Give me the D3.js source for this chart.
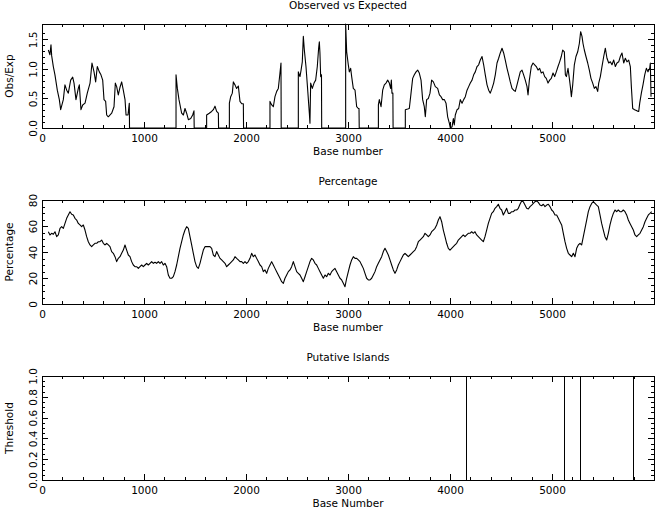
<!DOCTYPE html>
<html><head><meta charset="utf-8">
<script src="https://cdn.jsdelivr.net/npm/d3@7"></script>
<style>
html,body{margin:0;padding:0;background:#fff;}
svg{display:block;background:#fff;}
text{font-family:"DejaVu Sans",sans-serif;font-size:10.5px;fill:#000;}
</style></head><body>
<svg id="chart" width="658" height="510"></svg>
<script>
// ---------------- DATA ----------------
const panelTitles = ["Observed vs Expected", "Percentage", "Putative Islands"];
const xAxisLabels = ["Base number", "Base number", "Base Number"];
const yAxisLabels = ["Obs/Exp", "Percentage", "Threshold"];

const sequenceLength = 6000;
const xMajorTicks = [0, 1000, 2000, 3000, 4000, 5000];
const oeTicks = [0.0, 0.5, 1.0, 1.5];
const pctTicks = [0, 20, 40, 60, 80];
const islandTicks = [0.0, 0.2, 0.4, 0.6, 0.8, 1.0];

// Observed/Expected ratio: [base, value]
const obsExp = [
 [62,1.32],[78,1.24],[88,1.41],[95,1.22],[111,1.04],[127,0.90],[150,0.64],[170,0.48],[183,0.31],[209,0.48],
 [225,0.73],[242,0.64],[258,0.59],[281,0.81],[301,0.86],[314,0.76],[333,0.48],[356,0.67],[366,0.73],[382,0.31],
 [399,0.39],[422,0.42],[444,0.59],[471,0.76],[490,1.10],[510,0.95],[526,0.78],[542,1.04],[562,0.95],[578,0.90],
 [595,0.81],[608,0.48],[624,0.45],[634,0.22],[650,0.19],[683,0.25],[706,0.36],[719,0.76],[732,0.70],[748,0.56],
 [765,0.69],[781,0.78],[797,0.64],[814,0.48],[824,0.22],[843,0.22],[856,0.42],[858,0],
 [1314,0],[1314,0.90],[1327,0.67],[1343,0.48],[1369,0.25],[1386,0.22],[1402,0.33],[1418,0.25],[1435,0.14],[1458,0.16],[1477,0.22],[1490,0.29],[1492,0],
 [1614,0],[1614,0.22],[1640,0.25],[1663,0.28],[1680,0.31],[1696,0.37],[1712,0.28],[1729,0.25],[1731,0],
 [1837,0],[1837,0.42],[1850,0.53],[1866,0.59],[1876,0.78],[1892,0.73],[1908,0.67],[1925,0.71],[1941,0.45],[1958,0.41],[1974,0.41],[1976,0],
 [2235,0],[2235,0.45],[2252,0.39],[2268,0.36],[2284,0.53],[2301,0.62],[2317,0.67],[2333,0.93],[2343,1.10],[2345,0],
 [2513,0],[2513,0.95],[2529,0.87],[2540,0.98],[2552,1.12],[2562,1.55],[2572,1.32],[2588,1.04],[2605,0.64],[2621,0.25],
 [2627,0.08],[2634,0.76],[2650,0.67],[2667,0.76],[2683,0.81],[2699,1.04],[2712,1.35],[2719,1.46],[2725,1.27],[2732,0.87],[2740,0.90],[2742,0],
 [2977,0],[2977,1.76],[2987,1.29],[3003,1.07],[3013,0.95],[3026,1.01],[3036,0.87],[3052,0.67],[3069,0.64],[3085,0.36],[3101,0.33],[3108,0.33],[3110,0],
 [3298,0],[3298,0.39],[3307,0.48],[3324,0.36],[3340,0.64],[3356,0.73],[3373,0.76],[3389,0.81],[3405,0.76],[3418,0.67],[3425,0.81],[3431,0.59],[3440,0.59],[3442,0],
 [3562,0],[3562,0.31],[3585,0.32],[3601,0.33],[3618,0.59],[3634,0.84],[3650,0.90],[3667,0.95],[3683,0.98],[3699,0.93],
 [3716,0.81],[3732,0.48],[3748,0.36],[3758,0.19],[3771,0.48],[3788,0.50],[3804,0.59],[3820,0.81],[3837,0.78],[3856,0.70],
 [3879,0.67],[3896,0.56],[3912,0.53],[3928,0.48],[3945,0.48],[3961,0.42],[3977,0.19],[3994,0.08],[4003,0],[4020,0.02],
 [4033,0.16],[4042,0.05],[4052,0.22],[4069,0.31],[4085,0.33],[4101,0.48],[4118,0.42],[4134,0.48],[4150,0.53],[4167,0.64],
 [4183,0.70],[4199,0.76],[4216,0.81],[4232,0.90],[4248,0.95],[4265,1.04],[4281,1.07],[4297,1.15],[4314,1.21],[4330,1.07],
 [4346,0.90],[4363,0.73],[4379,0.64],[4395,0.59],[4412,0.67],[4428,0.76],[4444,0.90],[4461,1.10],[4477,1.18],[4493,1.27],
 [4510,1.35],[4526,1.27],[4542,1.15],[4559,1.01],[4575,0.90],[4591,0.78],[4608,0.67],[4624,0.64],[4640,0.62],[4657,0.73],
 [4673,0.84],[4689,0.95],[4706,0.98],[4722,0.90],[4738,0.81],[4755,0.70],[4765,0.56],[4778,0.81],[4797,1.04],[4814,1.10],
 [4830,1.07],[4846,1.04],[4863,0.98],[4879,1.01],[4895,0.93],[4912,0.95],[4928,0.87],[4944,0.84],[4961,0.76],[4977,0.81],
 [4993,0.84],[5010,0.93],[5026,0.87],[5042,0.95],[5059,1.04],[5075,1.12],[5091,1.21],[5105,1.32],[5121,1.29],[5131,0.90],
 [5141,0.87],[5157,1.01],[5170,0.84],[5180,0.70],[5190,0.53],[5203,0.73],[5219,1.07],[5235,1.21],[5252,1.29],[5268,1.43],
 [5281,1.63],[5294,1.55],[5304,1.43],[5317,1.32],[5333,1.21],[5350,1.10],[5366,0.98],[5382,0.84],[5399,0.76],[5415,0.67],
 [5431,0.70],[5448,0.62],[5458,0.76],[5474,0.87],[5490,1.04],[5507,1.21],[5523,1.35],[5539,1.18],[5556,1.10],[5572,1.12],
 [5588,1.07],[5605,1.15],[5621,1.04],[5637,1.10],[5654,1.12],[5670,1.21],[5686,1.27],[5703,1.10],[5719,1.18],[5735,1.12],
 [5752,1.15],[5768,1.04],[5778,0.70],[5791,0.33],[5810,0.31],[5833,0.29],[5850,0.28],[5860,0.42],[5876,0.59],[5892,0.73],
 [5909,0.90],[5925,1.01],[5941,0.95],[5958,1.01],[5964,1.10],[5971,0.53]
];

// Percentage (sampled at evenly spaced bases)
const pctFirstBase = 62, pctBaseStep = 16.34;
const pctValues = [
 55.6,53.1,54.4,53.6,55.6,51.8,53.1,58.2,59.5,58.2,62.0,65.9,68.5,71.0,69.0,68.5,65.9,64.6,62.0,60.8,
 59.5,60.8,56.9,51.8,47.9,45.4,44.1,45.4,46.7,46.7,47.9,47.9,49.2,46.7,45.4,46.7,45.4,44.1,40.3,39.0,
 36.4,32.6,35.1,36.4,39.0,41.5,45.4,41.5,37.7,36.4,32.6,30.0,28.7,28.7,27.4,28.7,30.0,28.7,30.0,31.3,
 30.0,31.3,32.6,31.3,32.1,31.3,32.6,31.3,32.6,30.0,31.3,28.7,22.3,19.8,19.8,21.0,24.9,30.0,36.4,42.8,
 47.9,53.1,56.9,59.5,58.2,51.8,45.4,39.0,32.6,28.7,27.4,31.3,36.4,41.5,44.1,44.1,44.1,44.1,42.8,37.7,
 36.4,40.3,37.7,35.1,33.9,32.6,31.3,28.7,30.0,31.3,32.6,33.9,36.4,35.1,33.9,32.6,32.6,31.3,32.6,31.3,
 32.6,35.1,39.0,36.4,37.7,35.1,32.6,30.0,28.7,24.9,26.2,23.6,27.4,30.0,32.6,30.0,27.4,24.9,22.3,19.8,
 17.2,15.9,19.8,22.3,24.9,26.2,28.7,32.6,28.7,24.9,23.6,22.3,19.8,17.2,21.0,24.9,28.7,32.6,35.1,33.9,
 31.3,30.0,27.4,
 24.9,22.3,19.8,22.3,21.0,23.6,22.3,24.9,26.2,27.4,24.9,22.3,19.8,18.5,15.9,13.3,19.8,24.9,30.0,33.9,
 36.4,35.1,35.1,33.9,32.6,30.0,27.4,23.6,19.8,18.5,18.5,19.8,22.3,24.9,28.7,31.3,33.9,36.4,40.3,42.8,
 40.3,37.7,33.9,30.0,26.2,23.6,26.2,30.0,32.6,35.1,37.7,39.0,37.7,36.4,37.7,39.0,40.3,41.5,44.1,47.9,
 49.2,50.5,51.8,54.4,53.1,51.8,53.1,55.6,56.9,58.2,60.8,64.6,67.2,63.3,56.9,51.8,46.7,42.8,41.5,42.8,
 44.1,45.4,46.7,49.2,50.5,51.8,53.1,51.8,53.1,54.4,54.4,55.6,54.4,55.6,53.1,51.8,50.5,49.2,47.9,51.8,
 56.9,62.0,65.9,69.7,71.0,73.6,74.9,76.7,73.6,72.3,68.5,71.0,73.6,69.7,69.7,71.0,71.0,72.3,72.3,73.6,
 76.7,79.2,78.7,76.1,73.6,73.1,74.9,76.1,77.4,78.7,79.2,78.2,76.1,75.6,76.7,74.9,76.1,76.7,74.9,72.3,
 71.0,68.5,68.5,65.9,63.3,60.8,54.4,47.9,42.8,39.0,37.7,36.4,39.0,36.4,42.8,45.4,46.7,45.4,51.8,58.2,
 64.6,71.0,74.9,77.4,78.7,77.4,76.1,74.9,68.5,62.0,56.9,51.8,49.2,54.4,60.8,65.9,69.7,72.3,71.0,72.3,
 71.0,71.0,72.3,71.0,68.5,64.6,62.0,59.5,56.9,53.1,51.8,53.1,54.4,56.9,59.5,63.3,65.9,68.5,69.7,71.0
];

// Putative CpG islands (base ranges)
const islandStart = [4165, 5275];
const islandEnd = [5125, 5795];

// ---------------- LAYOUT ----------------
const svg = d3.select("#chart");
const W = 658, H = 510;
svg.append("rect").attr("width", W).attr("height", H).attr("fill", "#fff");

const left = 42, right = 654;
const panels = [
  {top: 24, bottom: 128, yDomain: [0, 1.76], yMajor: oeTicks, yMinor: d3.range(0, 17).map(i => i * 0.1), fmt: d3.format(".1f"),
   data: obsExp, crisp: false},
  {top: 200, bottom: 304, yDomain: [0, 80], yMajor: pctTicks, yMinor: d3.range(0, 17).map(i => i * 5), fmt: d3.format("d"),
   data: pctValues.map((v, i) => [pctFirstBase + i * pctBaseStep, v]), crisp: false},
  {top: 376, bottom: 480, yDomain: [0, 1], yMajor: islandTicks, yMinor: d3.range(0, 21).map(i => i * 0.05), fmt: d3.format(".1f"),
   data: (() => {
     const pts = [[0, 0]];
     islandStart.forEach((s, i) => { pts.push([s, 0], [s, 1], [islandEnd[i], 1], [islandEnd[i], 0]); });
     pts.push([sequenceLength, 0]);
     return pts;
   })(), crisp: true}
];

const xMinor = d3.range(0, sequenceLength, 200);

panels.forEach((p, idx) => {
  const x = d3.scaleLinear().domain([0, sequenceLength]).range([left, right]);
  const y = d3.scaleLinear().domain(p.yDomain).range([p.bottom, p.top]);
  const g = svg.append("g");

  function addAxis(axis, transform, labels) {
    const a = g.append("g").attr("transform", transform).call(axis);
    a.select(".domain").remove();
    a.attr("font-family", null).attr("font-size", null);
    a.selectAll(".tick line").attr("stroke", "#000").attr("shape-rendering", "crispEdges");
    if (!labels) a.selectAll(".tick text").remove();
    return a;
  }

  // bottom
  addAxis(d3.axisBottom(x).tickValues(xMinor).tickSize(-3).tickFormat(""), `translate(0,${p.bottom})`, false);
  const xb = addAxis(d3.axisBottom(x).tickValues(xMajorTicks).tickSize(-6).tickPadding(7).tickFormat(d3.format("d")), `translate(0,${p.bottom})`, true);
  xb.selectAll(".tick text").attr("fill", "#000");
  // top
  addAxis(d3.axisTop(x).tickValues(xMinor).tickSize(-3).tickFormat(""), `translate(0,${p.top})`, false);
  addAxis(d3.axisTop(x).tickValues(xMajorTicks).tickSize(-6).tickFormat(""), `translate(0,${p.top})`, false);
  // left
  addAxis(d3.axisLeft(y).tickValues(p.yMinor).tickSize(-3).tickFormat(""), `translate(${left},0)`, false);
  const yl = addAxis(d3.axisLeft(y).tickValues(p.yMajor).tickSize(-6).tickFormat(p.fmt), `translate(${left},0)`, true);
  yl.selectAll(".tick text")
    .attr("transform", "rotate(-90)")
    .attr("x", 0).attr("y", -5).attr("dy", null)
    .attr("text-anchor", "middle").attr("fill", "#000");
  // right
  addAxis(d3.axisRight(y).tickValues(p.yMinor).tickSize(-3).tickFormat(""), `translate(${right},0)`, false);
  addAxis(d3.axisRight(y).tickValues(p.yMajor).tickSize(-6).tickFormat(""), `translate(${right},0)`, false);

  // frame
  g.append("rect")
    .attr("x", left).attr("y", p.top)
    .attr("width", right - left).attr("height", p.bottom - p.top)
    .attr("fill", "none").attr("stroke", "#000").attr("stroke-width", 1)
    .attr("shape-rendering", "crispEdges");

  // data line
  const path = g.append("path")
    .datum(p.data)
    .attr("fill", "none")
    .attr("stroke", "#000")
    .attr("stroke-width", p.crisp ? 1 : 1.1)
    .attr("stroke-linejoin", "round")
    .attr("d", d3.line().x(d => x(d[0])).y(d => y(d[1])));
  if (p.crisp) path.attr("shape-rendering", "crispEdges");

  // titles and labels
  g.append("text").attr("x", (left + right) / 2).attr("y", p.top - 15)
    .attr("text-anchor", "middle").text(panelTitles[idx]);
  g.append("text").attr("x", (left + right) / 2).attr("y", p.bottom + 27)
    .attr("text-anchor", "middle").text(xAxisLabels[idx]);
  g.append("text")
    .attr("transform", `translate(13,${(p.top + p.bottom) / 2}) rotate(-90)`)
    .attr("text-anchor", "middle").text(yAxisLabels[idx]);
});
</script>
</body></html>
